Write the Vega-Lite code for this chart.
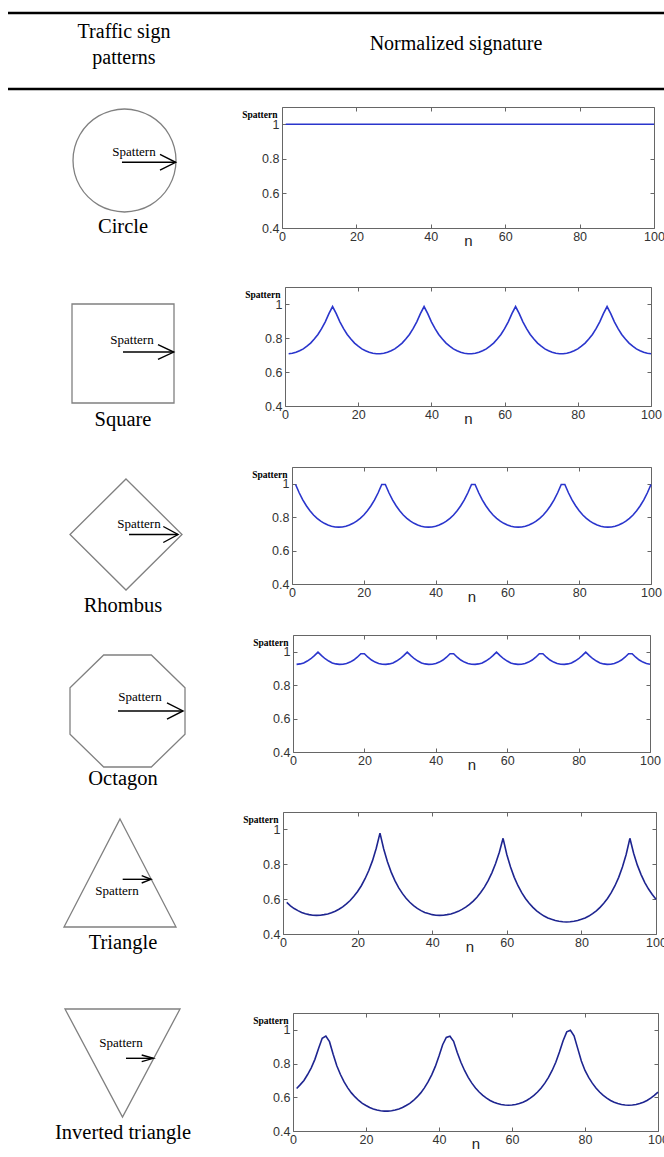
{
 "$schema": "https://vega.github.io/schema/vega-lite/v6.json",
 "padding": 0,
 "background": "white",
 "columns": 2,
 "spacing": 0,
 "bounds": "flush",
 "config": {
  "view": {"stroke": null},
  "axis": {"grid": false, "domainColor": "#666", "tickColor": "#666", "tickSize": -4, "labelFont": "Liberation Sans", "labelFontSize": 12.5, "labelColor": "#333", "labelFlush": false, "labelPadding": 6, "domainWidth": 1, "tickWidth": 1}
 },
 "datasets": {
  "circ": [{"n": 1, "v": 1}, {"n": 100, "v": 1}],
  "sig": [
   {"n":1,"sq":0.707,"rh":0.995,"oc":0.924,"tr":0.581,"it":0.652},
   {"n":2,"sq":0.710,"rh":0.946,"oc":0.927,"tr":0.562,"it":0.675},
   {"n":3,"sq":0.716,"rh":0.903,"oc":0.933,"tr":0.546,"it":0.700},
   {"n":4,"sq":0.725,"rh":0.868,"oc":0.944,"tr":0.534,"it":0.735},
   {"n":5,"sq":0.736,"rh":0.838,"oc":0.958,"tr":0.524,"it":0.775},
   {"n":6,"sq":0.752,"rh":0.813,"oc":0.977,"tr":0.516,"it":0.825},
   {"n":7,"sq":0.770,"rh":0.793,"oc":0.997,"tr":0.511,"it":0.890},
   {"n":8,"sq":0.794,"rh":0.776,"oc":0.977,"tr":0.508,"it":0.950},
   {"n":9,"sq":0.821,"rh":0.763,"oc":0.958,"tr":0.507,"it":0.963},
   {"n":10,"sq":0.855,"rh":0.753,"oc":0.944,"tr":0.508,"it":0.930},
   {"n":11,"sq":0.895,"rh":0.746,"oc":0.933,"tr":0.511,"it":0.855},
   {"n":12,"sq":0.943,"rh":0.741,"oc":0.927,"tr":0.515,"it":0.787},
   {"n":13,"sq":0.985,"rh":0.740,"oc":0.924,"tr":0.522,"it":0.735},
   {"n":14,"sq":0.943,"rh":0.741,"oc":0.925,"tr":0.531,"it":0.691},
   {"n":15,"sq":0.895,"rh":0.746,"oc":0.930,"tr":0.542,"it":0.656},
   {"n":16,"sq":0.855,"rh":0.753,"oc":0.938,"tr":0.556,"it":0.626},
   {"n":17,"sq":0.821,"rh":0.763,"oc":0.950,"tr":0.573,"it":0.602},
   {"n":18,"sq":0.794,"rh":0.776,"oc":0.967,"tr":0.592,"it":0.581},
   {"n":19,"sq":0.770,"rh":0.793,"oc":0.988,"tr":0.616,"it":0.564},
   {"n":20,"sq":0.752,"rh":0.813,"oc":0.988,"tr":0.644,"it":0.551},
   {"n":21,"sq":0.736,"rh":0.838,"oc":0.967,"tr":0.677,"it":0.539},
   {"n":22,"sq":0.725,"rh":0.868,"oc":0.950,"tr":0.717,"it":0.531},
   {"n":23,"sq":0.716,"rh":0.903,"oc":0.938,"tr":0.764,"it":0.524},
   {"n":24,"sq":0.710,"rh":0.946,"oc":0.930,"tr":0.821,"it":0.520},
   {"n":25,"sq":0.707,"rh":0.995,"oc":0.925,"tr":0.892,"it":0.518},
   {"n":26,"sq":0.707,"rh":0.995,"oc":0.924,"tr":0.979,"it":0.518},
   {"n":27,"sq":0.710,"rh":0.946,"oc":0.927,"tr":0.888,"it":0.520},
   {"n":28,"sq":0.716,"rh":0.903,"oc":0.933,"tr":0.814,"it":0.524},
   {"n":29,"sq":0.725,"rh":0.868,"oc":0.944,"tr":0.755,"it":0.531},
   {"n":30,"sq":0.736,"rh":0.838,"oc":0.958,"tr":0.706,"it":0.539},
   {"n":31,"sq":0.752,"rh":0.813,"oc":0.977,"tr":0.666,"it":0.551},
   {"n":32,"sq":0.770,"rh":0.793,"oc":0.997,"tr":0.633,"it":0.564},
   {"n":33,"sq":0.794,"rh":0.776,"oc":0.977,"tr":0.605,"it":0.581},
   {"n":34,"sq":0.821,"rh":0.763,"oc":0.958,"tr":0.582,"it":0.602},
   {"n":35,"sq":0.855,"rh":0.753,"oc":0.944,"tr":0.563,"it":0.626},
   {"n":36,"sq":0.895,"rh":0.746,"oc":0.933,"tr":0.547,"it":0.656},
   {"n":37,"sq":0.943,"rh":0.741,"oc":0.927,"tr":0.534,"it":0.691},
   {"n":38,"sq":0.985,"rh":0.740,"oc":0.924,"tr":0.524,"it":0.733},
   {"n":39,"sq":0.943,"rh":0.741,"oc":0.925,"tr":0.517,"it":0.783},
   {"n":40,"sq":0.895,"rh":0.746,"oc":0.930,"tr":0.511,"it":0.845},
   {"n":41,"sq":0.855,"rh":0.753,"oc":0.938,"tr":0.508,"it":0.912},
   {"n":42,"sq":0.821,"rh":0.763,"oc":0.950,"tr":0.507,"it":0.955},
   {"n":43,"sq":0.794,"rh":0.776,"oc":0.967,"tr":0.508,"it":0.962},
   {"n":44,"sq":0.770,"rh":0.793,"oc":0.988,"tr":0.511,"it":0.932},
   {"n":45,"sq":0.752,"rh":0.813,"oc":0.988,"tr":0.515,"it":0.866},
   {"n":46,"sq":0.736,"rh":0.838,"oc":0.967,"tr":0.522,"it":0.808},
   {"n":47,"sq":0.725,"rh":0.868,"oc":0.950,"tr":0.530,"it":0.759},
   {"n":48,"sq":0.716,"rh":0.903,"oc":0.938,"tr":0.541,"it":0.718},
   {"n":49,"sq":0.710,"rh":0.946,"oc":0.930,"tr":0.554,"it":0.684},
   {"n":50,"sq":0.707,"rh":0.995,"oc":0.925,"tr":0.570,"it":0.655},
   {"n":51,"sq":0.707,"rh":0.995,"oc":0.924,"tr":0.589,"it":0.631},
   {"n":52,"sq":0.710,"rh":0.946,"oc":0.927,"tr":0.611,"it":0.611},
   {"n":53,"sq":0.716,"rh":0.903,"oc":0.933,"tr":0.638,"it":0.595},
   {"n":54,"sq":0.725,"rh":0.868,"oc":0.944,"tr":0.669,"it":0.581},
   {"n":55,"sq":0.736,"rh":0.838,"oc":0.958,"tr":0.706,"it":0.571},
   {"n":56,"sq":0.752,"rh":0.813,"oc":0.977,"tr":0.751,"it":0.563},
   {"n":57,"sq":0.770,"rh":0.793,"oc":0.997,"tr":0.804,"it":0.557},
   {"n":58,"sq":0.794,"rh":0.776,"oc":0.977,"tr":0.869,"it":0.554},
   {"n":59,"sq":0.821,"rh":0.763,"oc":0.958,"tr":0.949,"it":0.553},
   {"n":60,"sq":0.855,"rh":0.753,"oc":0.944,"tr":0.856,"it":0.554},
   {"n":61,"sq":0.895,"rh":0.746,"oc":0.933,"tr":0.784,"it":0.557},
   {"n":62,"sq":0.943,"rh":0.741,"oc":0.927,"tr":0.725,"it":0.563},
   {"n":63,"sq":0.985,"rh":0.740,"oc":0.924,"tr":0.677,"it":0.571},
   {"n":64,"sq":0.943,"rh":0.741,"oc":0.925,"tr":0.637,"it":0.581},
   {"n":65,"sq":0.895,"rh":0.746,"oc":0.930,"tr":0.604,"it":0.595},
   {"n":66,"sq":0.855,"rh":0.753,"oc":0.938,"tr":0.576,"it":0.611},
   {"n":67,"sq":0.821,"rh":0.763,"oc":0.950,"tr":0.553,"it":0.631},
   {"n":68,"sq":0.794,"rh":0.776,"oc":0.967,"tr":0.533,"it":0.655},
   {"n":69,"sq":0.770,"rh":0.793,"oc":0.988,"tr":0.517,"it":0.684},
   {"n":70,"sq":0.752,"rh":0.813,"oc":0.988,"tr":0.503,"it":0.718},
   {"n":71,"sq":0.736,"rh":0.838,"oc":0.967,"tr":0.492,"it":0.759},
   {"n":72,"sq":0.725,"rh":0.868,"oc":0.950,"tr":0.484,"it":0.808},
   {"n":73,"sq":0.716,"rh":0.903,"oc":0.938,"tr":0.477,"it":0.868},
   {"n":74,"sq":0.710,"rh":0.946,"oc":0.930,"tr":0.473,"it":0.935},
   {"n":75,"sq":0.707,"rh":0.995,"oc":0.925,"tr":0.470,"it":0.988},
   {"n":76,"sq":0.707,"rh":0.995,"oc":0.924,"tr":0.469,"it":0.998},
   {"n":77,"sq":0.710,"rh":0.946,"oc":0.927,"tr":0.470,"it":0.965},
   {"n":78,"sq":0.716,"rh":0.903,"oc":0.933,"tr":0.473,"it":0.890},
   {"n":79,"sq":0.725,"rh":0.868,"oc":0.944,"tr":0.477,"it":0.815},
   {"n":80,"sq":0.736,"rh":0.838,"oc":0.958,"tr":0.484,"it":0.759},
   {"n":81,"sq":0.752,"rh":0.813,"oc":0.977,"tr":0.492,"it":0.718},
   {"n":82,"sq":0.770,"rh":0.793,"oc":0.997,"tr":0.503,"it":0.684},
   {"n":83,"sq":0.794,"rh":0.776,"oc":0.977,"tr":0.517,"it":0.655},
   {"n":84,"sq":0.821,"rh":0.763,"oc":0.958,"tr":0.533,"it":0.631},
   {"n":85,"sq":0.855,"rh":0.753,"oc":0.944,"tr":0.553,"it":0.611},
   {"n":86,"sq":0.895,"rh":0.746,"oc":0.933,"tr":0.576,"it":0.595},
   {"n":87,"sq":0.943,"rh":0.741,"oc":0.927,"tr":0.604,"it":0.581},
   {"n":88,"sq":0.985,"rh":0.740,"oc":0.924,"tr":0.637,"it":0.571},
   {"n":89,"sq":0.943,"rh":0.741,"oc":0.925,"tr":0.677,"it":0.563},
   {"n":90,"sq":0.895,"rh":0.746,"oc":0.930,"tr":0.725,"it":0.557},
   {"n":91,"sq":0.855,"rh":0.753,"oc":0.938,"tr":0.784,"it":0.554},
   {"n":92,"sq":0.821,"rh":0.763,"oc":0.950,"tr":0.856,"it":0.553},
   {"n":93,"sq":0.794,"rh":0.776,"oc":0.967,"tr":0.949,"it":0.554},
   {"n":94,"sq":0.770,"rh":0.793,"oc":0.988,"tr":0.863,"it":0.557},
   {"n":95,"sq":0.752,"rh":0.813,"oc":0.988,"tr":0.795,"it":0.563},
   {"n":96,"sq":0.736,"rh":0.838,"oc":0.967,"tr":0.741,"it":0.571},
   {"n":97,"sq":0.725,"rh":0.868,"oc":0.950,"tr":0.695,"it":0.581},
   {"n":98,"sq":0.716,"rh":0.903,"oc":0.938,"tr":0.658,"it":0.595},
   {"n":99,"sq":0.710,"rh":0.946,"oc":0.930,"tr":0.627,"it":0.611},
   {"n":100,"sq":0.707,"rh":0.995,"oc":0.925,"tr":0.600,"it":0.631}
  ],
  "shapes": [
   {"shape":"circle","part":"outline","p":0,"x":1,"y":0},
   {"shape":"circle","part":"outline","p":1,"x":0.9659,"y":0.2588},
   {"shape":"circle","part":"outline","p":2,"x":0.866,"y":0.5},
   {"shape":"circle","part":"outline","p":3,"x":0.7071,"y":0.7071},
   {"shape":"circle","part":"outline","p":4,"x":0.5,"y":0.866},
   {"shape":"circle","part":"outline","p":5,"x":0.2588,"y":0.9659},
   {"shape":"circle","part":"outline","p":6,"x":0,"y":1},
   {"shape":"circle","part":"outline","p":7,"x":-0.2588,"y":0.9659},
   {"shape":"circle","part":"outline","p":8,"x":-0.5,"y":0.866},
   {"shape":"circle","part":"outline","p":9,"x":-0.7071,"y":0.7071},
   {"shape":"circle","part":"outline","p":10,"x":-0.866,"y":0.5},
   {"shape":"circle","part":"outline","p":11,"x":-0.9659,"y":0.2588},
   {"shape":"circle","part":"outline","p":12,"x":-1,"y":0},
   {"shape":"circle","part":"outline","p":13,"x":-0.9659,"y":-0.2588},
   {"shape":"circle","part":"outline","p":14,"x":-0.866,"y":-0.5},
   {"shape":"circle","part":"outline","p":15,"x":-0.7071,"y":-0.7071},
   {"shape":"circle","part":"outline","p":16,"x":-0.5,"y":-0.866},
   {"shape":"circle","part":"outline","p":17,"x":-0.2588,"y":-0.9659},
   {"shape":"circle","part":"outline","p":18,"x":0,"y":-1},
   {"shape":"circle","part":"outline","p":19,"x":0.2588,"y":-0.9659},
   {"shape":"circle","part":"outline","p":20,"x":0.5,"y":-0.866},
   {"shape":"circle","part":"outline","p":21,"x":0.7071,"y":-0.7071},
   {"shape":"circle","part":"outline","p":22,"x":0.866,"y":-0.5},
   {"shape":"circle","part":"outline","p":23,"x":0.9659,"y":-0.2588},
   {"shape":"circle","part":"shaft","p":0,"x":-0.049,"y":-0.035},
   {"shape":"circle","part":"shaft","p":1,"x":0.99,"y":-0.035},
   {"shape":"circle","part":"head","p":0,"x":0.689,"y":0.117},
   {"shape":"circle","part":"head","p":1,"x":0.994,"y":-0.035},
   {"shape":"circle","part":"head","p":2,"x":0.689,"y":-0.187},
   {"shape":"square","part":"outline","p":0,"x":-1,"y":-1},
   {"shape":"square","part":"outline","p":1,"x":1,"y":-1},
   {"shape":"square","part":"outline","p":2,"x":1,"y":1},
   {"shape":"square","part":"outline","p":3,"x":-1,"y":1},
   {"shape":"square","part":"shaft","p":0,"x":0,"y":0.03},
   {"shape":"square","part":"shaft","p":1,"x":0.99,"y":0.03},
   {"shape":"square","part":"head","p":0,"x":0.686,"y":0.18},
   {"shape":"square","part":"head","p":1,"x":0.995,"y":0.03},
   {"shape":"square","part":"head","p":2,"x":0.686,"y":-0.12},
   {"shape":"rhombus","part":"outline","p":0,"x":0,"y":1},
   {"shape":"rhombus","part":"outline","p":1,"x":1,"y":0},
   {"shape":"rhombus","part":"outline","p":2,"x":0,"y":-1},
   {"shape":"rhombus","part":"outline","p":3,"x":-1,"y":0},
   {"shape":"rhombus","part":"shaft","p":0,"x":0.054,"y":0},
   {"shape":"rhombus","part":"shaft","p":1,"x":0.925,"y":0},
   {"shape":"rhombus","part":"head","p":0,"x":0.666,"y":0.144},
   {"shape":"rhombus","part":"head","p":1,"x":0.929,"y":0},
   {"shape":"rhombus","part":"head","p":2,"x":0.666,"y":-0.144},
   {"shape":"octagon","part":"outline","p":0,"x":1,"y":0.4142},
   {"shape":"octagon","part":"outline","p":1,"x":0.4142,"y":1},
   {"shape":"octagon","part":"outline","p":2,"x":-0.4142,"y":1},
   {"shape":"octagon","part":"outline","p":3,"x":-1,"y":0.4142},
   {"shape":"octagon","part":"outline","p":4,"x":-1,"y":-0.4142},
   {"shape":"octagon","part":"outline","p":5,"x":-0.4142,"y":-1},
   {"shape":"octagon","part":"outline","p":6,"x":0.4142,"y":-1},
   {"shape":"octagon","part":"outline","p":7,"x":1,"y":-0.4142},
   {"shape":"octagon","part":"shaft","p":0,"x":-0.165,"y":0},
   {"shape":"octagon","part":"shaft","p":1,"x":0.96,"y":0},
   {"shape":"octagon","part":"head","p":0,"x":0.687,"y":0.143},
   {"shape":"octagon","part":"head","p":1,"x":0.965,"y":0},
   {"shape":"octagon","part":"head","p":2,"x":0.687,"y":-0.143},
   {"shape":"triangle","part":"outline","p":0,"x":0,"y":1},
   {"shape":"triangle","part":"outline","p":1,"x":1,"y":-1},
   {"shape":"triangle","part":"outline","p":2,"x":-1,"y":-1},
   {"shape":"triangle","part":"shaft","p":0,"x":0.048,"y":-0.117},
   {"shape":"triangle","part":"shaft","p":1,"x":0.55,"y":-0.117},
   {"shape":"triangle","part":"head","p":0,"x":0.3875,"y":-0.049},
   {"shape":"triangle","part":"head","p":1,"x":0.554,"y":-0.117},
   {"shape":"triangle","part":"head","p":2,"x":0.3875,"y":-0.185},
   {"shape":"inverted","part":"outline","p":0,"x":-1,"y":1},
   {"shape":"inverted","part":"outline","p":1,"x":1,"y":1},
   {"shape":"inverted","part":"outline","p":2,"x":0,"y":-1},
   {"shape":"inverted","part":"shaft","p":0,"x":0.061,"y":0.087},
   {"shape":"inverted","part":"shaft","p":1,"x":0.532,"y":0.087},
   {"shape":"inverted","part":"head","p":0,"x":0.334,"y":0.148},
   {"shape":"inverted","part":"head","p":1,"x":0.536,"y":0.087},
   {"shape":"inverted","part":"head","p":2,"x":0.334,"y":0.026}
  ],
  "labels": [
   {"shape":"circle","kind":"arrow","text":"Spattern","x":0.184,"y":0.165},
   {"shape":"circle","kind":"name","text":"Circle","x":-0.029,"y":-1.291},
   {"shape":"square","kind":"arrow","text":"Spattern","x":0.176,"y":0.273},
   {"shape":"square","kind":"name","text":"Square","x":0,"y":-1.343},
   {"shape":"rhombus","kind":"arrow","text":"Spattern","x":0.232,"y":0.189},
   {"shape":"rhombus","kind":"name","text":"Rhombus","x":-0.054,"y":-1.288},
   {"shape":"octagon","kind":"arrow","text":"Spattern","x":0.217,"y":0.25},
   {"shape":"octagon","kind":"name","text":"Octagon","x":-0.078,"y":-1.214},
   {"shape":"triangle","kind":"arrow","text":"Spattern","x":-0.054,"y":-0.333},
   {"shape":"triangle","kind":"name","text":"Triangle","x":0.054,"y":-1.296},
   {"shape":"inverted","kind":"arrow","text":"Spattern","x":-0.026,"y":0.37},
   {"shape":"inverted","kind":"name","text":"Inverted triangle","x":0.009,"y":-1.296}
  ],
  "header": [
   {"col":"patterns","label":["Traffic sign","patterns"]},
   {"col":"signature","label":"Normalized signature"}
  ]
 },
 "concat": [
  {
   "width": 248, "height": 107,
   "data": {"name": "header"},
   "transform": [{"filter": "datum.col=='patterns'"}],
   "layer": [
    {"mark": {"type": "rule", "stroke": "#000", "strokeWidth": 2.5}, "encoding": {"x": {"value": 8}, "x2": {"value": 293}, "y": {"value": 13}}},
    {"mark": {"type": "rule", "stroke": "#000", "strokeWidth": 2.5}, "encoding": {"x": {"value": 8}, "x2": {"value": 293}, "y": {"value": 89}}},
    {"mark": {"type": "text", "font": "Liberation Serif", "fontSize": 20, "lineHeight": 26, "baseline": "alphabetic", "align": "center", "color": "#000"},
     "encoding": {"x": {"value": 124}, "y": {"value": 37.5}, "text": {"field": "label"}}}
   ]
  },
  {
   "width": 371, "height": 107,
   "data": {"name": "header"},
   "transform": [{"filter": "datum.col=='signature'"}],
   "layer": [
    {"mark": {"type": "rule", "stroke": "#000", "strokeWidth": 2.5}, "encoding": {"x": {"value": 0}, "x2": {"value": 371}, "y": {"value": 13}}},
    {"mark": {"type": "rule", "stroke": "#000", "strokeWidth": 2.5}, "encoding": {"x": {"value": 0}, "x2": {"value": 371}, "y": {"value": 89}}},
    {"mark": {"type": "text", "font": "Liberation Serif", "fontSize": 20, "baseline": "alphabetic", "align": "center", "color": "#000"},
     "encoding": {"x": {"value": 163}, "y": {"value": 50}, "text": {"field": "label"}}}
   ]
  },
  {"width": 282, "height": 180,
   "layer": [
    {"data": {"name": "shapes"}, "transform": [{"filter": "datum.shape=='circle' && datum.part=='outline'"}],
     "mark": {"type": "line", "interpolate": "cardinal-closed", "stroke": "#808080", "strokeWidth": 1.3},
     "encoding": {"x": {"field": "x", "type": "quantitative", "scale": {"domain": [-2.4175, 3.0583], "nice": false, "zero": false}, "axis": null}, "y": {"field": "y", "type": "quantitative", "scale": {"domain": [-2.4563, 1.0388], "nice": false, "zero": false}, "axis": null}, "order": {"field": "p", "type": "quantitative"}}},
    {"data": {"name": "shapes"}, "transform": [{"filter": "datum.shape=='circle' && datum.part!='outline'"}],
     "mark": {"type": "line", "stroke": "#000", "strokeWidth": 1.4},
     "encoding": {"x": {"field": "x", "type": "quantitative", "scale": {"domain": [-2.4175, 3.0583], "nice": false, "zero": false}, "axis": null}, "y": {"field": "y", "type": "quantitative", "scale": {"domain": [-2.4563, 1.0388], "nice": false, "zero": false}, "axis": null}, "order": {"field": "p", "type": "quantitative"}, "detail": {"field": "part"}}},
    {"data": {"name": "labels"}, "transform": [{"filter": "datum.shape=='circle'"}],
     "mark": {"type": "text", "font": "Liberation Serif", "baseline": "middle", "align": "center", "color": "#000"},
     "encoding": {"x": {"field": "x", "type": "quantitative", "scale": {"domain": [-2.4175, 3.0583], "nice": false, "zero": false}, "axis": null}, "y": {"field": "y", "type": "quantitative", "scale": {"domain": [-2.4563, 1.0388], "nice": false, "zero": false}, "axis": null}, "text": {"field": "text"}, "size": {"condition": {"test": "datum.kind=='name'", "value": 20.5}, "value": 13}}}
   ]},
  {"width": 361, "height": 121,
   "data": {"name": "circ"},
   "layer": [
    {"mark": {"type": "line", "color": "#2a35cc", "strokeWidth": 1.6},
     "encoding": {
      "x": {"field": "n", "type": "quantitative", "scale": {"domain": [0, 100], "range": [-11, 361], "nice": false, "zero": false}, "axis": {"orient": "bottom", "values": [0, 20, 40, 60, 80, 100], "title": "n", "titleFont": "Liberation Sans", "titleFontSize": 15, "titleFontWeight": "normal", "titleColor": "#222", "titleBaseline": "alphabetic", "titleY": 17.5}},
      "y": {"field": "v", "type": "quantitative", "scale": {"domain": [0.4, 1.1], "nice": false, "zero": false}, "axis": {"orient": "left", "offset": 11, "labelPadding": 7, "values": [0.4, 0.6, 0.8, 1], "format": "~g", "title": "Spattern", "titleFont": "Liberation Serif", "titleFontSize": 9.5, "titleFontWeight": "bold", "titleColor": "#000", "titleAngle": 0, "titleAlign": "right", "titleBaseline": "middle", "titleX": -5, "titleY": 7}}}},
    {"mark": {"type": "line", "opacity": 0},
     "encoding": {
      "x": {"field": "n", "type": "quantitative", "axis": {"orient": "top", "values": [0, 20, 40, 60, 80, 100], "labels": false, "title": null}},
      "y": {"field": "v", "type": "quantitative", "axis": {"orient": "right", "values": [0.4, 0.6, 0.8, 1], "labels": false, "title": null}}}}
   ],
   "resolve": {"axis": {"x": "independent", "y": "independent"}}},
  {"width": 285, "height": 180,
   "layer": [
    {"data": {"name": "shapes"}, "transform": [{"filter": "datum.shape=='square' && datum.part=='outline'"}],
     "mark": {"type": "line", "interpolate": "linear-closed", "stroke": "#808080", "strokeWidth": 1.3},
     "encoding": {"x": {"field": "x", "type": "quantitative", "scale": {"domain": [-2.4118, 3.1765], "nice": false, "zero": false}, "axis": null}, "y": {"field": "y", "type": "quantitative", "scale": {"domain": [-2.2929, 1.3434], "nice": false, "zero": false}, "axis": null}, "order": {"field": "p", "type": "quantitative"}}},
    {"data": {"name": "shapes"}, "transform": [{"filter": "datum.shape=='square' && datum.part!='outline'"}],
     "mark": {"type": "line", "stroke": "#000", "strokeWidth": 1.4},
     "encoding": {"x": {"field": "x", "type": "quantitative", "scale": {"domain": [-2.4118, 3.1765], "nice": false, "zero": false}, "axis": null}, "y": {"field": "y", "type": "quantitative", "scale": {"domain": [-2.2929, 1.3434], "nice": false, "zero": false}, "axis": null}, "order": {"field": "p", "type": "quantitative"}, "detail": {"field": "part"}}},
    {"data": {"name": "labels"}, "transform": [{"filter": "datum.shape=='square'"}],
     "mark": {"type": "text", "font": "Liberation Serif", "baseline": "middle", "align": "center", "color": "#000"},
     "encoding": {"x": {"field": "x", "type": "quantitative", "scale": {"domain": [-2.4118, 3.1765], "nice": false, "zero": false}, "axis": null}, "y": {"field": "y", "type": "quantitative", "scale": {"domain": [-2.2929, 1.3434], "nice": false, "zero": false}, "axis": null}, "text": {"field": "text"}, "size": {"condition": {"test": "datum.kind=='name'", "value": 20.5}, "value": 13}}}
   ]},
  {"width": 358, "height": 119,
   "data": {"name": "sig"},
   "layer": [
    {"mark": {"type": "line", "color": "#2a35cc", "strokeWidth": 1.6},
     "encoding": {
      "x": {"field": "n", "type": "quantitative", "scale": {"domain": [0, 100], "range": [-8, 358], "nice": false, "zero": false}, "axis": {"orient": "bottom", "values": [0, 20, 40, 60, 80, 100], "title": "n", "titleFont": "Liberation Sans", "titleFontSize": 15, "titleFontWeight": "normal", "titleColor": "#222", "titleBaseline": "alphabetic", "titleY": 17.5}},
      "y": {"field": "sq", "type": "quantitative", "scale": {"domain": [0.4, 1.1], "nice": false, "zero": false}, "axis": {"orient": "left", "offset": 8, "labelPadding": 7, "values": [0.4, 0.6, 0.8, 1], "format": "~g", "title": "Spattern", "titleFont": "Liberation Serif", "titleFontSize": 9.5, "titleFontWeight": "bold", "titleColor": "#000", "titleAngle": 0, "titleAlign": "right", "titleBaseline": "middle", "titleX": -5, "titleY": 7}}}},
    {"mark": {"type": "line", "opacity": 0},
     "encoding": {
      "x": {"field": "n", "type": "quantitative", "axis": {"orient": "top", "values": [0, 20, 40, 60, 80, 100], "labels": false, "title": null}},
      "y": {"field": "sq", "type": "quantitative", "axis": {"orient": "right", "values": [0.4, 0.6, 0.8, 1], "labels": false, "title": null}}}}
   ],
   "resolve": {"axis": {"x": "independent", "y": "independent"}}},
  {"width": 292, "height": 168,
   "layer": [
    {"data": {"name": "shapes"}, "transform": [{"filter": "datum.shape=='rhombus' && datum.part=='outline'"}],
     "mark": {"type": "line", "interpolate": "linear-closed", "stroke": "#808080", "strokeWidth": 1.3},
     "encoding": {"x": {"field": "x", "type": "quantitative", "scale": {"domain": [-2.25, 2.9643], "nice": false, "zero": false}, "axis": null}, "y": {"field": "y", "type": "quantitative", "scale": {"domain": [-1.8108, 1.2162], "nice": false, "zero": false}, "axis": null}, "order": {"field": "p", "type": "quantitative"}}},
    {"data": {"name": "shapes"}, "transform": [{"filter": "datum.shape=='rhombus' && datum.part!='outline'"}],
     "mark": {"type": "line", "stroke": "#000", "strokeWidth": 1.4},
     "encoding": {"x": {"field": "x", "type": "quantitative", "scale": {"domain": [-2.25, 2.9643], "nice": false, "zero": false}, "axis": null}, "y": {"field": "y", "type": "quantitative", "scale": {"domain": [-1.8108, 1.2162], "nice": false, "zero": false}, "axis": null}, "order": {"field": "p", "type": "quantitative"}, "detail": {"field": "part"}}},
    {"data": {"name": "labels"}, "transform": [{"filter": "datum.shape=='rhombus'"}],
     "mark": {"type": "text", "font": "Liberation Serif", "baseline": "middle", "align": "center", "color": "#000"},
     "encoding": {"x": {"field": "x", "type": "quantitative", "scale": {"domain": [-2.25, 2.9643], "nice": false, "zero": false}, "axis": null}, "y": {"field": "y", "type": "quantitative", "scale": {"domain": [-1.8108, 1.2162], "nice": false, "zero": false}, "axis": null}, "text": {"field": "text"}, "size": {"condition": {"test": "datum.kind=='name'", "value": 20.5}, "value": 13}}}
   ]},
  {"width": 358, "height": 117,
   "data": {"name": "sig"},
   "layer": [
    {"mark": {"type": "line", "color": "#2a35cc", "strokeWidth": 1.6},
     "encoding": {
      "x": {"field": "n", "type": "quantitative", "scale": {"domain": [0, 100], "range": [-1, 358], "nice": false, "zero": false}, "axis": {"orient": "bottom", "values": [0, 20, 40, 60, 80, 100], "title": "n", "titleFont": "Liberation Sans", "titleFontSize": 15, "titleFontWeight": "normal", "titleColor": "#222", "titleBaseline": "alphabetic", "titleY": 17.5}},
      "y": {"field": "rh", "type": "quantitative", "scale": {"domain": [0.4, 1.1], "nice": false, "zero": false}, "axis": {"orient": "left", "offset": 1, "labelPadding": 7, "values": [0.4, 0.6, 0.8, 1], "format": "~g", "title": "Spattern", "titleFont": "Liberation Serif", "titleFontSize": 9.5, "titleFontWeight": "bold", "titleColor": "#000", "titleAngle": 0, "titleAlign": "right", "titleBaseline": "middle", "titleX": -5, "titleY": 7}}}},
    {"mark": {"type": "line", "opacity": 0},
     "encoding": {
      "x": {"field": "n", "type": "quantitative", "axis": {"orient": "top", "values": [0, 20, 40, 60, 80, 100], "labels": false, "title": null}},
      "y": {"field": "rh", "type": "quantitative", "axis": {"orient": "right", "values": [0.4, 0.6, 0.8, 1], "labels": false, "title": null}}}}
   ],
   "resolve": {"axis": {"x": "independent", "y": "independent"}}},
  {"width": 293, "height": 177,
   "layer": [
    {"data": {"name": "shapes"}, "transform": [{"filter": "datum.shape=='octagon' && datum.part=='outline'"}],
     "mark": {"type": "line", "interpolate": "linear-closed", "stroke": "#808080", "strokeWidth": 1.3},
     "encoding": {"x": {"field": "x", "type": "quantitative", "scale": {"domain": [-2.2174, 2.8783], "nice": false, "zero": false}, "axis": null}, "y": {"field": "y", "type": "quantitative", "scale": {"domain": [-1.8036, 1.3571], "nice": false, "zero": false}, "axis": null}, "order": {"field": "p", "type": "quantitative"}}},
    {"data": {"name": "shapes"}, "transform": [{"filter": "datum.shape=='octagon' && datum.part!='outline'"}],
     "mark": {"type": "line", "stroke": "#000", "strokeWidth": 1.4},
     "encoding": {"x": {"field": "x", "type": "quantitative", "scale": {"domain": [-2.2174, 2.8783], "nice": false, "zero": false}, "axis": null}, "y": {"field": "y", "type": "quantitative", "scale": {"domain": [-1.8036, 1.3571], "nice": false, "zero": false}, "axis": null}, "order": {"field": "p", "type": "quantitative"}, "detail": {"field": "part"}}},
    {"data": {"name": "labels"}, "transform": [{"filter": "datum.shape=='octagon'"}],
     "mark": {"type": "text", "font": "Liberation Serif", "baseline": "middle", "align": "center", "color": "#000"},
     "encoding": {"x": {"field": "x", "type": "quantitative", "scale": {"domain": [-2.2174, 2.8783], "nice": false, "zero": false}, "axis": null}, "y": {"field": "y", "type": "quantitative", "scale": {"domain": [-1.8036, 1.3571], "nice": false, "zero": false}, "axis": null}, "text": {"field": "text"}, "size": {"condition": {"test": "datum.kind=='name'", "value": 20.5}, "value": 13}}}
   ]},
  {"width": 357, "height": 117,
   "data": {"name": "sig"},
   "layer": [
    {"mark": {"type": "line", "color": "#2a35cc", "strokeWidth": 1.6},
     "encoding": {
      "x": {"field": "n", "type": "quantitative", "scale": {"domain": [0, 100], "nice": false, "zero": false}, "axis": {"orient": "bottom", "values": [0, 20, 40, 60, 80, 100], "title": "n", "titleFont": "Liberation Sans", "titleFontSize": 15, "titleFontWeight": "normal", "titleColor": "#222", "titleBaseline": "alphabetic", "titleY": 17.5}},
      "y": {"field": "oc", "type": "quantitative", "scale": {"domain": [0.4, 1.1], "nice": false, "zero": false}, "axis": {"orient": "left", "labelPadding": 7, "values": [0.4, 0.6, 0.8, 1], "format": "~g", "title": "Spattern", "titleFont": "Liberation Serif", "titleFontSize": 9.5, "titleFontWeight": "bold", "titleColor": "#000", "titleAngle": 0, "titleAlign": "right", "titleBaseline": "middle", "titleX": -5, "titleY": 7}}}},
    {"mark": {"type": "line", "opacity": 0},
     "encoding": {
      "x": {"field": "n", "type": "quantitative", "axis": {"orient": "top", "values": [0, 20, 40, 60, 80, 100], "labels": false, "title": null}},
      "y": {"field": "oc", "type": "quantitative", "axis": {"orient": "right", "values": [0.4, 0.6, 0.8, 1], "labels": false, "title": null}}}}
   ],
   "resolve": {"axis": {"x": "independent", "y": "independent"}}},
  {"width": 283, "height": 201,
   "layer": [
    {"data": {"name": "shapes"}, "transform": [{"filter": "datum.shape=='triangle' && datum.part=='outline'"}],
     "mark": {"type": "line", "interpolate": "linear-closed", "stroke": "#808080", "strokeWidth": 1.3},
     "encoding": {"x": {"field": "x", "type": "quantitative", "scale": {"domain": [-2.1429, 2.9107], "nice": false, "zero": false}, "axis": null}, "y": {"field": "y", "type": "quantitative", "scale": {"domain": [-2.5926, 1.1296], "nice": false, "zero": false}, "axis": null}, "order": {"field": "p", "type": "quantitative"}}},
    {"data": {"name": "shapes"}, "transform": [{"filter": "datum.shape=='triangle' && datum.part!='outline'"}],
     "mark": {"type": "line", "stroke": "#000", "strokeWidth": 1.4},
     "encoding": {"x": {"field": "x", "type": "quantitative", "scale": {"domain": [-2.1429, 2.9107], "nice": false, "zero": false}, "axis": null}, "y": {"field": "y", "type": "quantitative", "scale": {"domain": [-2.5926, 1.1296], "nice": false, "zero": false}, "axis": null}, "order": {"field": "p", "type": "quantitative"}, "detail": {"field": "part"}}},
    {"data": {"name": "labels"}, "transform": [{"filter": "datum.shape=='triangle'"}],
     "mark": {"type": "text", "font": "Liberation Serif", "baseline": "middle", "align": "center", "color": "#000"},
     "encoding": {"x": {"field": "x", "type": "quantitative", "scale": {"domain": [-2.1429, 2.9107], "nice": false, "zero": false}, "axis": null}, "y": {"field": "y", "type": "quantitative", "scale": {"domain": [-2.5926, 1.1296], "nice": false, "zero": false}, "axis": null}, "text": {"field": "text"}, "size": {"condition": {"test": "datum.kind=='name'", "value": 20.5}, "value": 13}}}
   ]},
  {"width": 363, "height": 122,
   "data": {"name": "sig"},
   "layer": [
    {"mark": {"type": "line", "color": "#1e2590", "strokeWidth": 1.6},
     "encoding": {
      "x": {"field": "n", "type": "quantitative", "scale": {"domain": [0, 100], "range": [-10, 363], "nice": false, "zero": false}, "axis": {"orient": "bottom", "values": [0, 20, 40, 60, 80, 100], "title": "n", "titleFont": "Liberation Sans", "titleFontSize": 15, "titleFontWeight": "normal", "titleColor": "#222", "titleBaseline": "alphabetic", "titleY": 17.5}},
      "y": {"field": "tr", "type": "quantitative", "scale": {"domain": [0.4, 1.1], "nice": false, "zero": false}, "axis": {"orient": "left", "offset": 10, "labelPadding": 7, "values": [0.4, 0.6, 0.8, 1], "format": "~g", "title": "Spattern", "titleFont": "Liberation Serif", "titleFontSize": 9.5, "titleFontWeight": "bold", "titleColor": "#000", "titleAngle": 0, "titleAlign": "right", "titleBaseline": "middle", "titleX": -5, "titleY": 7}}}},
    {"mark": {"type": "line", "opacity": 0},
     "encoding": {
      "x": {"field": "n", "type": "quantitative", "axis": {"orient": "top", "values": [0, 20, 40, 60, 80, 100], "labels": false, "title": null}},
      "y": {"field": "tr", "type": "quantitative", "axis": {"orient": "right", "values": [0.4, 0.6, 0.8, 1], "labels": false, "title": null}}}}
   ],
   "resolve": {"axis": {"x": "independent", "y": "independent"}}},
  {"width": 293, "height": 144,
   "layer": [
    {"data": {"name": "shapes"}, "transform": [{"filter": "datum.shape=='inverted' && datum.part=='outline'"}],
     "mark": {"type": "line", "interpolate": "linear-closed", "stroke": "#808080", "strokeWidth": 1.3},
     "encoding": {"x": {"field": "x", "type": "quantitative", "scale": {"domain": [-2.1304, 2.9652], "nice": false, "zero": false}, "axis": null}, "y": {"field": "y", "type": "quantitative", "scale": {"domain": [-1.7407, 0.9259], "nice": false, "zero": false}, "axis": null}, "order": {"field": "p", "type": "quantitative"}}},
    {"data": {"name": "shapes"}, "transform": [{"filter": "datum.shape=='inverted' && datum.part!='outline'"}],
     "mark": {"type": "line", "stroke": "#000", "strokeWidth": 1.4},
     "encoding": {"x": {"field": "x", "type": "quantitative", "scale": {"domain": [-2.1304, 2.9652], "nice": false, "zero": false}, "axis": null}, "y": {"field": "y", "type": "quantitative", "scale": {"domain": [-1.7407, 0.9259], "nice": false, "zero": false}, "axis": null}, "order": {"field": "p", "type": "quantitative"}, "detail": {"field": "part"}}},
    {"data": {"name": "labels"}, "transform": [{"filter": "datum.shape=='inverted'"}],
     "mark": {"type": "text", "font": "Liberation Serif", "baseline": "middle", "align": "center", "color": "#000"},
     "encoding": {"x": {"field": "x", "type": "quantitative", "scale": {"domain": [-2.1304, 2.9652], "nice": false, "zero": false}, "axis": null}, "y": {"field": "y", "type": "quantitative", "scale": {"domain": [-1.7407, 0.9259], "nice": false, "zero": false}, "axis": null}, "text": {"field": "text"}, "size": {"condition": {"test": "datum.kind=='name'", "value": 20.5}, "value": 13}}}
   ]},
  {"width": 365, "height": 118,
   "data": {"name": "sig"},
   "layer": [
    {"mark": {"type": "line", "color": "#1e2590", "strokeWidth": 1.6},
     "encoding": {
      "x": {"field": "n", "type": "quantitative", "scale": {"domain": [0, 100], "nice": false, "zero": false}, "axis": {"orient": "bottom", "values": [0, 20, 40, 60, 80, 100], "title": "n", "titleFont": "Liberation Sans", "titleFontSize": 15, "titleFontWeight": "normal", "titleColor": "#222", "titleBaseline": "alphabetic", "titleY": 17.5}},
      "y": {"field": "it", "type": "quantitative", "scale": {"domain": [0.4, 1.1], "nice": false, "zero": false}, "axis": {"orient": "left", "labelPadding": 7, "values": [0.4, 0.6, 0.8, 1], "format": "~g", "title": "Spattern", "titleFont": "Liberation Serif", "titleFontSize": 9.5, "titleFontWeight": "bold", "titleColor": "#000", "titleAngle": 0, "titleAlign": "right", "titleBaseline": "middle", "titleX": -5, "titleY": 7}}}},
    {"mark": {"type": "line", "opacity": 0},
     "encoding": {
      "x": {"field": "n", "type": "quantitative", "axis": {"orient": "top", "values": [0, 20, 40, 60, 80, 100], "labels": false, "title": null}},
      "y": {"field": "it", "type": "quantitative", "axis": {"orient": "right", "values": [0.4, 0.6, 0.8, 1], "labels": false, "title": null}}}}
   ],
   "resolve": {"axis": {"x": "independent", "y": "independent"}}}
 ]
}
